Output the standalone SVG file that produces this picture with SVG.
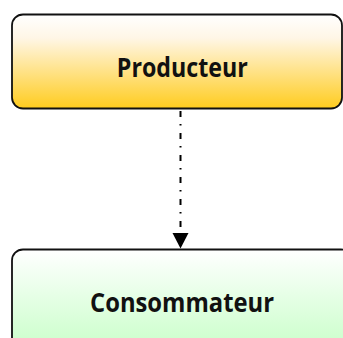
<svg xmlns="http://www.w3.org/2000/svg" width="343" height="338" viewBox="0 0 343 338">
  <defs>
    <linearGradient id="gradGold" x1="0" y1="0" x2="0" y2="1">
      <stop offset="0" stop-color="#ffffff"/>
      <stop offset="0.25" stop-color="#fff6e6"/>
      <stop offset="1" stop-color="#ffcc1e"/>
    </linearGradient>
    <linearGradient id="gradGreen" x1="0" y1="0" x2="0" y2="1">
      <stop offset="0" stop-color="#ffffff"/>
      <stop offset="1" stop-color="#c4ffc4"/>
    </linearGradient>
  </defs>
  <style>
    .box { stroke: #111; stroke-width: 1.8; }
    .label { font-family: "Open Sans", "Liberation Sans", sans-serif; font-weight: bold; font-size: 26px; fill: #111; text-anchor: middle; }
    .flow { stroke: #000; stroke-width: 2; fill: none; stroke-dasharray: 6 7 1.5 7.5; }
  </style>

  <g id="producteur">
    <rect class="box" x="12" y="14.5" width="330" height="94" rx="11" ry="11" fill="url(#gradGold)"/>
    <text class="label" x="182.3" y="76.5" textLength="131" lengthAdjust="spacingAndGlyphs">Producteur</text>
  </g>

  <g id="consommateur">
    <rect class="box" x="12" y="249.5" width="340" height="110" rx="11" ry="11" fill="url(#gradGreen)"/>
    <text class="label" x="182" y="311.5" textLength="184" lengthAdjust="spacingAndGlyphs">Consommateur</text>
  </g>

  <g id="connectors">
    <line class="flow" x1="180.5" y1="111" x2="180.5" y2="234"/>
    <path d="M172.5,233 L188.5,233 L180.5,248.5 Z" fill="#000"/>
  </g>
</svg>
